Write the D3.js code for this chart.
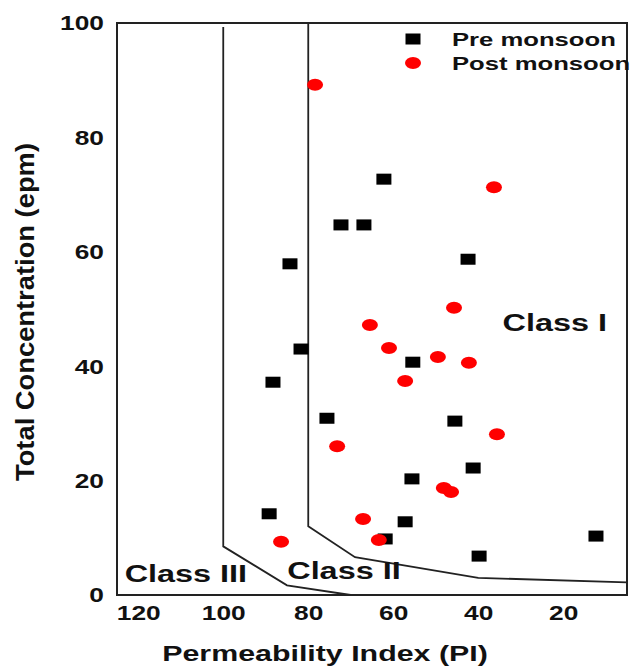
<!DOCTYPE html>
<html><head><meta charset="utf-8">
<script src="https://cdn.jsdelivr.net/npm/d3@7"></script>
<style>body{margin:0;background:#fff}svg{display:block}text{font-family:"Liberation Sans",Arial,sans-serif;font-weight:bold;fill:#111}</style>
</head><body><div id="c"></div>
<script>
const xTicks = [120, 100, 80, 60, 40, 20];
const yTicks = [0, 20, 40, 60, 80, 100];
const prePI = [72.3, 66.9, 62.2, 42.4, 84.3, 81.7, 88.3, 55.4, 75.6, 45.5, 55.6, 41.2, 89.2, 57.2, 61.9, 39.8, 12.3];
const preTC = [64.7, 64.7, 72.7, 58.7, 57.9, 43.0, 37.2, 40.7, 30.9, 30.4, 20.3, 22.2, 14.2, 12.8, 9.8, 6.8, 10.3];
const postPI = [78.4, 36.3, 45.7, 65.5, 61.0, 49.5, 42.2, 57.2, 73.2, 35.6, 48.1, 46.4, 67.1, 63.4, 86.4];
const postTC = [89.2, 71.3, 50.2, 47.2, 43.2, 41.6, 40.6, 37.4, 26.0, 28.1, 18.7, 18.0, 13.3, 9.6, 9.3];
const line1PI = [100, 100, 85, 70];
const line1TC = [99.3, 8.5, 1.7, 0];
const line2PI = [80, 80, 69, 40, 5];
const line2TC = [100, 12, 6.6, 3, 2.2];
const legendLabels = ["Pre monsoon", "Post monsoon"];
const classLabels = ["Class I", "Class II", "Class III"];
const classPI = [22, 71.6, 108.8];
const classTC = [47.6, 4.3, 3.8];

const W = 630, H = 666, SX = 1.35;
const svg = d3.select("#c").append("svg").attr("width", W).attr("height", H);
const x = d3.scaleLinear().domain([125, 5]).range([117, 627]);
const y = d3.scaleLinear().domain([0, 100]).range([595, 23]);

// axes
const gx = svg.append("g").attr("transform", "translate(0,595)")
  .call(d3.axisBottom(x).tickValues(xTicks).tickSize(0).tickPadding(0));
gx.select(".domain").remove();
gx.selectAll("text").attr("y", 18).attr("dy", "0.35em").attr("font-size", 19.5)
  .attr("font-family", "Liberation Sans").attr("font-weight", "bold").attr("fill", "#111")
  .attr("transform", `scale(${SX},1)`);
const gy = svg.append("g").attr("transform", "translate(117,0)")
  .call(d3.axisLeft(y).tickValues(yTicks).tickSize(0).tickPadding(0));
gy.select(".domain").remove();
gy.selectAll("text").attr("x", -13 / SX).attr("dy", "0.35em").attr("font-size", 19.5)
  .attr("font-family", "Liberation Sans").attr("font-weight", "bold").attr("fill", "#111")
  .attr("transform", `scale(${SX},1)`);

// frame
svg.append("rect").attr("x", x(125)).attr("y", y(100))
  .attr("width", x(5) - x(125)).attr("height", y(0) - y(100))
  .attr("fill", "none").attr("stroke", "#222").attr("stroke-width", 2);

// boundary lines
const line = d3.line().x(d => x(d[0])).y(d => y(d[1]));
[[line1PI, line1TC], [line2PI, line2TC]].forEach(([a, b]) => {
  svg.append("path").attr("d", line(a.map((v, i) => [v, b[i]])))
    .attr("fill", "none").attr("stroke", "#222").attr("stroke-width", 1.8);
});

// points
svg.append("g").selectAll("rect").data(prePI.map((v, i) => [v, preTC[i]])).join("rect")
  .attr("x", d => x(d[0]) - 7.5).attr("y", d => y(d[1]) - 5.5)
  .attr("width", 15).attr("height", 11).attr("fill", "#000");
svg.append("g").selectAll("ellipse").data(postPI.map((v, i) => [v, postTC[i]])).join("ellipse")
  .attr("cx", d => x(d[0])).attr("cy", d => y(d[1]))
  .attr("rx", 8).attr("ry", 6).attr("fill", "#ff0000");

// class labels
classLabels.forEach((t, i) => {
  svg.append("g").attr("transform", `translate(${x(classPI[i])},${y(classTC[i])})`)
    .append("text").attr("text-anchor", "middle").attr("dy", "0.35em")
    .attr("font-size", 24).attr("transform", `scale(${SX},1)`).text(t);
});

// legend
const lg = svg.append("g");
legendLabels.forEach((t, i) => {
  const yy = 39 + i * 24;
  if (i === 0) lg.append("rect").attr("x", 413 - 7.5).attr("y", yy - 5.5).attr("width", 15).attr("height", 11).attr("fill", "#000");
  else lg.append("ellipse").attr("cx", 413).attr("cy", yy).attr("rx", 8).attr("ry", 6).attr("fill", "#ff0000");
  lg.append("g").attr("transform", `translate(452,${yy})`).append("text")
    .attr("dy", "0.35em").attr("font-size", 19).attr("transform", `scale(${SX},1)`).text(t);
});

// axis titles
svg.append("g").attr("transform", "translate(325,653)").append("text")
  .attr("text-anchor", "middle").attr("dy", "0.35em").attr("font-size", 22.5)
  .attr("transform", `scale(${SX},1)`).text("Permeability Index (PI)");
svg.append("g").attr("transform", "translate(25,312) rotate(-90)").append("text")
  .attr("text-anchor", "middle").attr("dy", "0.35em").attr("font-size", 25)
  .attr("textLength", 338).attr("lengthAdjust", "spacingAndGlyphs")
  .text("Total Concentration (epm)");
</script></body></html>
